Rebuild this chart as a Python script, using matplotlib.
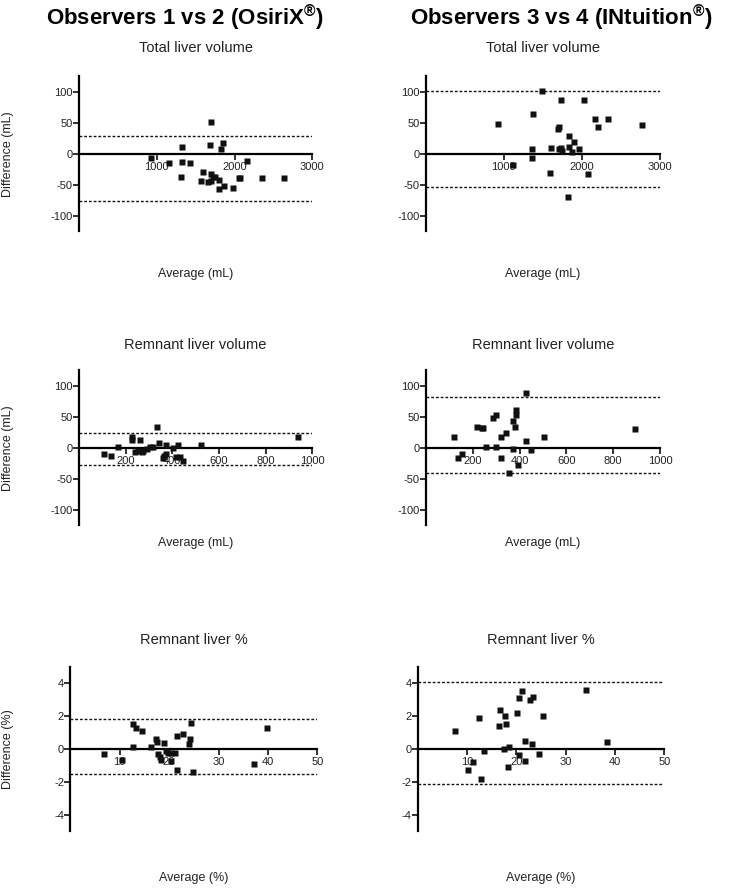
import matplotlib
matplotlib.use('Agg')
import matplotlib.pyplot as plt

plt.rcParams['font.family'] = ['Liberation Sans', 'DejaVu Sans']
plt.rcParams['axes.unicode_minus'] = False
plt.rcParams['mathtext.fontset'] = 'custom'
plt.rcParams['mathtext.rm'] = 'Liberation Sans'
plt.rcParams['mathtext.bf'] = 'Liberation Sans:bold'

# ---------------- data ----------------
col_titles = ['Observers 1 vs 2 (OsiriX$^{\\mathbf{®}}$)', 'Observers 3 vs 4 (INtuition$^{\\mathbf{®}}$)']
row_titles = ['Total liver volume', 'Remnant liver volume', 'Remnant liver %']
x_labels = ['Average (mL)', 'Average (mL)', 'Average (%)']
y_labels = ['Difference (mL)', 'Difference (mL)', 'Difference (%)']

tlv12_avg = [925, 1161, 1324, 1324, 1315, 1427, 1594, 1568, 1662, 1693, 1684, 1697, 1719,
             1749, 1693, 1796, 1804, 1821, 1847, 1868, 1979, 2052, 2066, 2159, 2352, 2640]
tlv12_diff = [-7, -14.5, 10.3, -13, -37, -14.5, -29.5, -44.5, -45.6, 50.6, 14.5, -33, -37,
              -38, -44, -42.4, -57, 8, 16.8, -52, -54.8, -38.7, -38.7, -11.3, -38.7, -40]
tlv12_loa = [28, -76.3]

tlv34_avg = [930, 1114, 1370, 1357, 1361, 1485, 1596, 1600, 1736, 1698, 1711, 1711, 1736,
             1741, 1831, 1899, 1831, 1873, 1959, 1818, 2031, 2082, 2168, 2202, 2338, 2765]
tlv34_diff = [47.8, -18.3, 63.5, 8, -7, 100.6, -31, 9.2, 87, 40.3, 43, 7, 9.2,
              4.8, 29, 19.4, 10.3, 2.7, 8, -69.3, 87, -32, 56, 43, 55.5, 46.8]
tlv34_loa = [101.6, -53.7]

rlv12_avg = [107, 139, 167, 226, 226, 261, 240, 254, 269, 276, 290, 304, 316,
             336, 341, 371, 360, 366, 371, 404, 423, 416, 433, 447, 521, 937]
rlv12_diff = [-9.6, -12.6, 1.0, 17.5, 12.3, 12.6, -6.4, -4.8, -6.4, -4.8, -2, 1.0, 0.5,
              33, 8, 4.8, -17, -13.4, -10, 0, 3.7, -14.4, -15.5, -21.4, 4.8, 16.6]
rlv12_loa = [24.1, -27.3]

rlv34_avg = [121, 138, 152, 217, 238, 245, 256, 285, 298, 299, 320, 340, 319,
             355, 370, 379, 373, 386, 386, 393, 427, 426, 447, 506, 893]
rlv34_diff = [16.8, -17, -10.7, 34, 31, 31, 1, 48, 52.7, 0.6, 17.7, 23.7, -16.6,
              -41.3, 43, 34, -2, 60, 53, -28, 89, 10.8, -3.7, 17.7, 30]
rlv34_loa = [81.2, -40.2]

pct12_avg = [6.9, 10.5, 12.6, 13.4, 14.6, 12.75, 16.3, 17.3, 17.5, 17.8, 18.1, 18.4, 19.0,
             19.3, 19.8, 20.3, 20.3, 21.2, 21.6, 22.8, 21.5, 24.1, 24.3, 24.4, 24.8, 37.2, 39.8]
pct12_diff = [-0.28, -0.67, 1.5, 1.3, 1.07, 0.1, 0.12, 0.59, 0.4, -0.3, -0.5, -0.67, 0.34,
              -0.1, -0.22, -0.22, -0.73, -0.22, 0.79, 0.91, -1.31, 0.3, 0.6, 1.6, -1.39, -0.91, 1.29]
pct12_loa = [1.8, -1.5]

pct34_avg = [7.56, 12.4, 16.6, 17.8, 16.4, 18.0, 20.1, 20.5, 21.1, 22.8, 23.3, 25.4, 21.8,
             23.1, 13.4, 17.4, 18.5, 20.5, 21.8, 24.5, 11.2, 10.3, 18.3, 12.8, 34.1, 38.3]
pct34_diff = [1.1, 1.92, 2.4, 2.0, 1.41, 1.51, 2.22, 3.14, 3.53, 3.0, 3.2, 2.0, 0.51,
              0.3, -0.1, 0, 0.1, -0.39, -0.72, -0.31, -0.82, -1.31, -1.12, -1.84, 3.6, 0.41]
pct34_loa = [4.1, -2.15]

vol_xticks_total = [1000, 2000, 3000]
vol_xticks_remnant = [200, 400, 600, 800, 1000]
pct_xticks = [10, 20, 30, 40, 50]
vol_yticks = [100, 50, 0, -50, -100]
pct_yticks = [4, 2, 0, -2, -4]

# ---------------- layout ----------------
W, H = 731, 888
fig = plt.figure(figsize=(W / 100, H / 100), dpi=100)

panels = [
    # x0, x1, ytop, ybot, xlim, ylim, xticks, yticks, avg, diff, loa, row, col
    (79, 312.3, 76.2, 231.2, (0, 3000), (-125, 125), vol_xticks_total, vol_yticks, tlv12_avg, tlv12_diff, tlv12_loa, 0, 0),
    (425.7, 660, 76.2, 231.2, (0, 3000), (-125, 125), vol_xticks_total, vol_yticks, tlv34_avg, tlv34_diff, tlv34_loa, 0, 1),
    (79, 312.3, 370.2, 525.2, (0, 1000), (-125, 125), vol_xticks_remnant, vol_yticks, rlv12_avg, rlv12_diff, rlv12_loa, 1, 0),
    (426, 660, 370.2, 525.2, (0, 1000), (-125, 125), vol_xticks_remnant, vol_yticks, rlv34_avg, rlv34_diff, rlv34_loa, 1, 1),
    (70.3, 317.3, 667, 831, (0, 50), (-5, 5), pct_xticks, pct_yticks, pct12_avg, pct12_diff, pct12_loa, 2, 0),
    (417.7, 664.3, 667, 831, (0, 50), (-5, 5), pct_xticks, pct_yticks, pct34_avg, pct34_diff, pct34_loa, 2, 1),
]

title_y = [48, 345, 640]
xlabel_y = [274, 543, 878]

for (x0, x1, yt, yb, xlim, ylim, xt, ytk, avg, diff, loa, row, col) in panels:
    ax = fig.add_axes([x0 / W, 1 - yb / H, (x1 - x0) / W, (yb - yt) / H])
    ax.set_xlim(*xlim)
    ax.set_ylim(*ylim)
    for s in ('top', 'right'):
        ax.spines[s].set_visible(False)
    ax.spines['bottom'].set_position(('data', 0))
    ax.spines['left'].set_linewidth(1.6)
    ax.spines['bottom'].set_linewidth(1.6)
    ax.set_xticks(xt)
    ax.set_yticks(ytk)
    ax.tick_params(axis='both', direction='out', length=4, width=1.3, labelsize=8,
                   colors='#222222')
    ax.tick_params(axis='y', pad=0.5)
    ax.tick_params(axis='x', pad=2)
    for v in loa:
        ax.plot(xlim, [v, v], color='#111111', lw=1.0, ls=(0, (2, 1.4)), zorder=2)
    ax.plot(avg, diff, ls='none', marker='s', ms=4.7, color='#111111', mec='none', zorder=3,
            clip_on=False)
    ax.patch.set_alpha(0)

    cx = (x0 + x1) / 2
    fig.text(cx / W, 1 - title_y[row] / H, row_titles[row], ha='center', va='center',
             fontsize=10.5, color='#222222')
    fig.text(cx / W, 1 - xlabel_y[row] / H, x_labels[row], ha='center', va='center',
             fontsize=9, color='#222222')
    if col == 0:
        fig.text(8.5 / W, 1 - (yt + yb) / 2 / H, y_labels[row], rotation=90, ha='center',
                 va='center', fontsize=9, color='#222222')

fig.text(184.5 / W, 1 - 18 / H, col_titles[0], ha='center', va='center', fontsize=16,
         fontweight='bold')
fig.text(561 / W, 1 - 18 / H, col_titles[1], ha='center', va='center', fontsize=16,
         fontweight='bold')

fig.savefig('out.png', dpi=100)
